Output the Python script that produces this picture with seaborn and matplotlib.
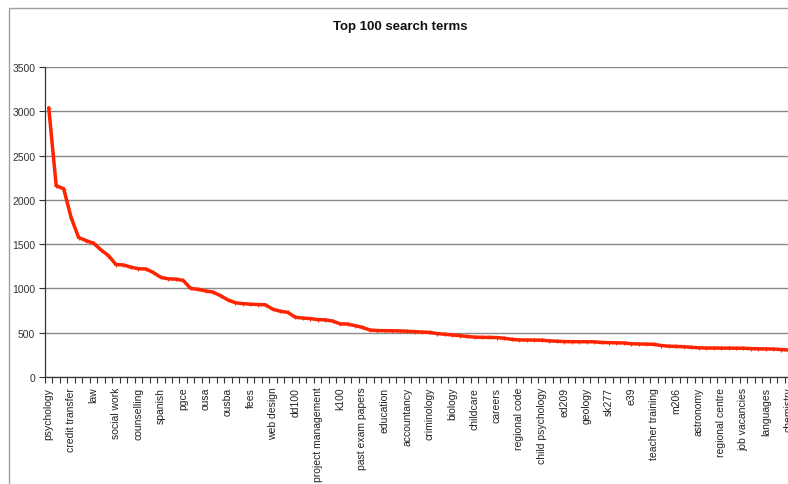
# %%
# Setup
import matplotlib
matplotlib.use("Agg")
import matplotlib.pyplot as plt
import numpy as np
import pandas as pd
import seaborn as sns
from matplotlib.patches import Rectangle

# %%
# Data: hits for the top 100 search terms (only every third term is labelled)
shown_terms = [
    "psychology", "credit transfer", "law", "social work", "counselling",
    "spanish", "pgce", "ousa", "ousba", "fees", "web design", "dd100",
    "project management", "k100", "past exam papers", "education",
    "accountancy", "criminology", "biology", "childcare", "careers",
    "regional code", "child psychology", "ed209", "geology", "sk277", "e39",
    "teacher training", "m206", "astronomy", "regional centre",
    "job vacancies", "languages", "chemistry",
]

hits = [
    3040, 2160, 2125, 1800, 1575, 1540, 1510, 1435, 1370, 1270,
    1265, 1240, 1222, 1220, 1180, 1125, 1108, 1105, 1090, 1000,
    990, 972, 958, 918, 870, 838, 828, 822, 818, 815,
    765, 742, 730, 675, 665, 660, 648, 645, 632, 600,
    598, 580, 560, 530, 524, 523, 522, 520, 516, 512,
    507, 503, 490, 483, 475, 467, 458, 450, 448, 447,
    445, 437, 425, 418, 418, 417, 416, 408, 404, 400,
    399, 398, 398, 397, 390, 388, 386, 384, 375, 373,
    371, 369, 355, 348, 345, 342, 336, 330, 327, 327,
    326, 326, 325, 325, 320, 318, 317, 316, 310, 305,
]

df = pd.DataFrame({"rank": np.arange(len(hits)), "hits": hits})

# %%
# Plot
sns.set_theme(style="white")
plt.rcParams["font.family"] = ["Liberation Sans", "DejaVu Sans"]

fig = plt.figure(figsize=(7.88, 4.85), dpi=100)
ax = fig.add_axes([45 / 788, 1 - 378 / 485, 747 / 788, 310 / 485])

sns.lineplot(
    data=df,
    x="rank",
    y="hits",
    color="#FF2400",
    linewidth=2.5,
    marker="+",
    markersize=3,
    markeredgewidth=0.7,
    markeredgecolor="#FF2400",
    ax=ax,
)

ax.set_xlim(-0.5, len(hits) - 0.5)
ax.set_ylim(0, 3500)
ax.set_yticks(np.arange(0, 3501, 500))
ax.yaxis.grid(True, color="#8a8a8a", linewidth=1)
ax.set_axisbelow(True)

ax.set_xticks(np.arange(0, len(hits), 3))
ax.set_xticklabels(shown_terms, rotation=90, va="top", ha="center")
ax.set_xticks(np.arange(-0.5, len(hits), 1), minor=True)
ax.tick_params(axis="x", which="major", length=0, pad=7, labelsize=7.5,
               colors="#222222")
ax.tick_params(axis="x", which="minor", length=4, width=0.8,
               color="#333333", direction="out", bottom=True)
ax.tick_params(axis="y", length=4, width=0.8, color="#333333",
               direction="out", left=True, labelsize=7.5, pad=3,
               labelcolor="#333333")

for side in ["top", "right"]:
    ax.spines[side].set_visible(False)
for side in ["left", "bottom"]:
    ax.spines[side].set_color("#333333")
    ax.spines[side].set_linewidth(0.9)

ax.set_xlabel("")
ax.set_ylabel("")

fig.text(400 / 788, 1 - 27 / 485, "Top 100 search terms", ha="center",
         va="center", fontsize=9.5, fontweight="bold", color="#111111")

# chart area frame
fig.patches.append(Rectangle((9 / 788, -0.1), 2, 1.1 - 9 / 485,
                             transform=fig.transFigure, fill=False,
                             edgecolor="#a0a0a0", linewidth=1))

fig.savefig("out.png", dpi=100)
plt.close(fig)
